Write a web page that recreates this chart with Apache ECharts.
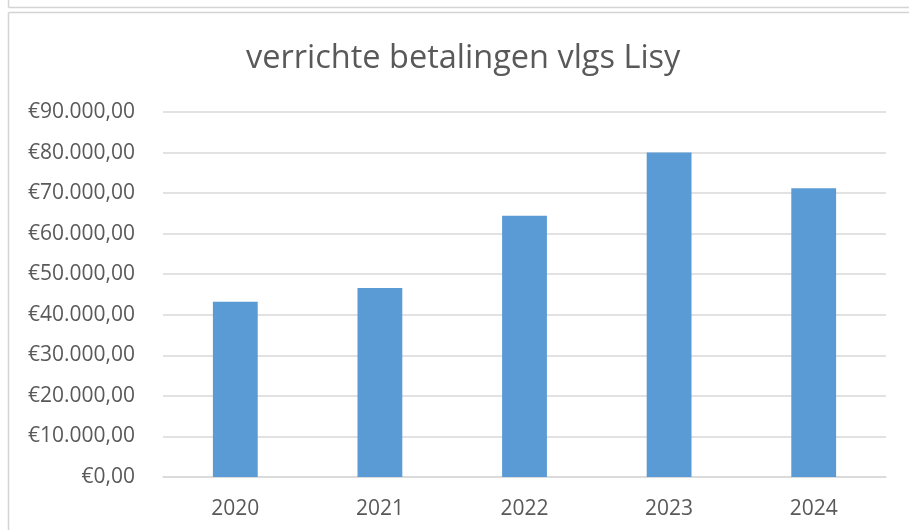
<!DOCTYPE html>
<html>
<head>
<meta charset="utf-8">
<script src="https://cdn.jsdelivr.net/npm/echarts@6/dist/echarts.min.js"></script>
<style>
html,body{margin:0;padding:0;background:#fff;}
#c{width:909px;height:530px;}
</style>
</head>
<body>
<div id="c"></div>
<script>
const titleText = 'verrichte betalingen vlgs Lisy';
const categories = ['2020', '2021', '2022', '2023', '2024'];
const values = [43200, 46600, 64400, 80000, 71200];
const yMin = 0, yMax = 90000, yStep = 10000;

function fmtEuro(v) {
  const s = Math.round(v).toString().replace(/\B(?=(\d{3})+(?!\d))/g, '.');
  return '€' + s + ',00';
}

const chart = echarts.init(document.getElementById('c'), null, {renderer: 'canvas'});
const font = '"Open Sans", "Noto Sans", sans-serif';
chart.setOption({
  animation: false,
  backgroundColor: '#ffffff',
  title: {
    text: titleText,
    left: 241,
    top: 37,
    textStyle: {fontFamily: font, fontSize: 32.5, fontWeight: 'normal', color: '#595959'}
  },
  grid: {left: 163, right: 23, top: 112, bottom: 53, containLabel: false},
  xAxis: {
    type: 'category',
    data: categories,
    axisLine: {show: true, lineStyle: {color: '#D9D9D9', width: 1.5}},
    axisTick: {show: false},
    axisLabel: {fontFamily: font, fontSize: 21, color: '#595959', margin: 22}
  },
  yAxis: {
    type: 'value',
    min: yMin, max: yMax, interval: yStep,
    axisLine: {show: false},
    axisTick: {show: false},
    splitLine: {show: true, lineStyle: {color: '#D9D9D9', width: 1.5}},
    axisLabel: {fontFamily: font, fontSize: 21, color: '#595959', margin: 28, formatter: fmtEuro}
  },
  series: [{
    type: 'bar',
    data: values,
    barWidth: '31%',
    itemStyle: {color: '#5B9BD5'}
  }],
  graphic: [
    {type: 'line', shape: {x1: 8.5, y1: 0, x2: 8.5, y2: 7.5}, style: {stroke: '#D4D4D4', lineWidth: 1.5}},
    {type: 'line', shape: {x1: 8.5, y1: 7.5, x2: 909, y2: 7.5}, style: {stroke: '#D4D4D4', lineWidth: 1.5}},
    {type: 'line', shape: {x1: 8.5, y1: 12.5, x2: 909, y2: 12.5}, style: {stroke: '#D4D4D4', lineWidth: 1.5}},
    {type: 'line', shape: {x1: 8.5, y1: 12.5, x2: 8.5, y2: 530}, style: {stroke: '#D4D4D4', lineWidth: 1.5}}
  ]
});
</script>
</body>
</html>
